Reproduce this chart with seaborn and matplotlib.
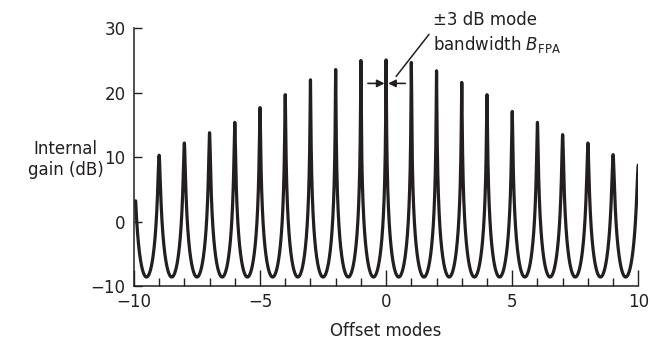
import numpy as np
import pandas as pd
import seaborn as sns
import matplotlib.pyplot as plt

# peak gain of each longitudinal mode (dB)
modes = list(range(-10, 11))
peak_db = [8.6, 10.3, 12.2, 13.8, 15.4, 17.7, 19.7, 22.0, 23.6, 25.0, 25.1,
           24.7, 23.4, 21.6, 19.7, 17.1, 15.4, 13.5, 12.2, 10.4, 8.8]
trough_db = -8.6
x_start, x_end = -9.93, 10.0

sns.set_style("ticks")
plt.rcParams['font.family'] = ['DejaVu Sans']
plt.rcParams['mathtext.fontset'] = 'dejavusans'
ink = "#231f20"

# Fabry-Perot (Airy) line shape around each mode, matched to its peak and trough
x = np.linspace(x_start, x_end, 40001)
k = np.clip(np.round(x).astype(int), -10, 10)
gp = 10 ** (np.array(peak_db)[k + 10] / 10)
gv = 10 ** (trough_db / 10)
F = gp / gv - 1
g = gp / (1 + F * np.sin(np.pi * (x - k)) ** 2)
df = pd.DataFrame({"offset": x, "gain": 10 * np.log10(g)})

fig, ax = plt.subplots(figsize=(6.5, 3.43), dpi=100)
sns.lineplot(data=df, x="offset", y="gain", ax=ax, color=ink, lw=2.3,
             estimator=None, errorbar=None, sort=False, solid_joinstyle="round")

ax.set_xlim(-10, 10)
ax.set_ylim(-10, 30)
sns.despine(ax=ax)
for s in ["left", "bottom"]:
    ax.spines[s].set_color(ink)
    ax.spines[s].set_linewidth(1.1)

ax.set_xticks([-10, -5, 0, 5, 10])
ax.set_xticks(modes, minor=True)
ax.set_yticks([-10, 0, 10, 20, 30])
ax.tick_params(axis="x", which="major", direction="in", length=11.5, width=1,
               color=ink, labelsize=12, labelcolor=ink, pad=5)
ax.tick_params(axis="x", which="minor", direction="in", length=5.6, width=1, color=ink)
ax.tick_params(axis="y", direction="in", length=5.8, width=1, color=ink,
               labelsize=12, labelcolor=ink, pad=6)

ax.set_xlabel("Offset modes", fontsize=12, color=ink, labelpad=8)
ax.set_ylabel("Internal\ngain (dB)", fontsize=12, color=ink, rotation=0,
              ha="center", va="center", multialignment="center")
ax.yaxis.set_label_coords(-0.135, 0.49)

# -3 dB bandwidth arrows around the central mode
arr = dict(arrowstyle="-|>", color=ink, lw=1.2, mutation_scale=11, shrinkA=0, shrinkB=0)
ax.annotate("", xy=(-0.06, 21.45), xytext=(-0.72, 21.45), arrowprops=arr)
ax.annotate("", xy=(0.08, 21.45), xytext=(0.76, 21.45), arrowprops=arr)
ax.annotate("", xy=(0.33, 22.2), xytext=(1.77, 29.4),
            arrowprops=dict(arrowstyle="-", color=ink, lw=1.1), annotation_clip=False)
ax.text(1.87, 30.55, "±3 dB mode", fontsize=12, color=ink, va="baseline", clip_on=False)
ax.text(1.87, 26.6, r"bandwidth $B_{\mathrm{FPA}}$", fontsize=12, color=ink,
        va="baseline", clip_on=False)

plt.subplots_adjust(left=0.206, right=0.982, bottom=0.166, top=0.9175)
fig.savefig("out.png", dpi=100)
